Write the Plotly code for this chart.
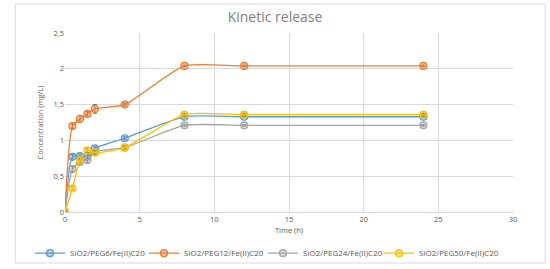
import plotly.graph_objects as go

time_h = [0, 0.5, 1, 1.5, 2, 4, 8, 12, 24]
peg6 = [0, 0.77, 0.78, 0.78, 0.89, 1.03, 1.33, 1.33, 1.33]
peg12 = [0, 1.20, 1.30, 1.37, 1.44, 1.50, 2.04, 2.04, 2.04]
peg24 = [0, 0.60, 0.70, 0.73, 0.84, 0.90, 1.21, 1.21, 1.21]
peg50 = [0, 0.33, 0.72, 0.86, 0.83, 0.90, 1.36, 1.36, 1.36]
err6 = [0.01, 0.03, 0.03, 0.05, 0.02, 0.02, 0.02, 0.01, 0.01]
err12 = [0.01, 0.03, 0.05, 0.03, 0.06, 0.02, 0.01, 0.01, 0.01]
err24 = [0.01, 0.04, 0.04, 0.05, 0.02, 0.02, 0.01, 0.01, 0.01]
err50 = [0.01, 0.02, 0.04, 0.03, 0.03, 0.02, 0.02, 0.02, 0.02]

names = ["SiO2/PEG6/Fe(II)C20", "SiO2/PEG12/Fe(II)C20", "SiO2/PEG24/Fe(II)C20", "SiO2/PEG50/Fe(II)C20"]
series = [peg6, peg12, peg24, peg50]
errors = [err6, err12, err24, err50]
colors = ["#5B9BD5", "#ED7D31", "#A5A5A5", "#FFC000"]
fills = ["rgba(91,155,213,0.45)", "rgba(237,125,49,0.45)", "rgba(165,165,165,0.45)", "rgba(255,192,0,0.45)"]

y_ticks = [0, 0.5, 1, 1.5, 2, 2.5]
y_labels = ["0", "0,5", "1", "1,5", "2", "2,5"]
x_ticks = [0, 5, 10, 15, 20, 25, 30]

legend_ids = ["legend", "legend2", "legend3", "legend4"]
legend_left_px = [30, 144, 263, 379]

fig = go.Figure()
for n, ys, e, c, f, lg in zip(names, series, errors, colors, fills, legend_ids):
    fig.add_trace(go.Scatter(
        x=time_h, y=ys, name=n, mode="lines+markers", legend=lg, showlegend=True,
        line=dict(color=c, width=1.3, shape="spline", smoothing=0.6),
        marker=dict(symbol="circle", size=7, color=f, line=dict(color=c, width=1.2)),
        error_y=dict(type="data", array=e, visible=True, color="#595959", thickness=0.8, width=2),
    ))

font_c = "#595959"
W, H = 550, 269
legend_layout = {}
for lg, px in zip(legend_ids, legend_left_px):
    legend_layout[lg] = dict(orientation="h", xref="container", x=px / W, xanchor="left",
                             yref="container", y=0.059, yanchor="middle",
                             font=dict(size=8, color=font_c), itemwidth=30,
                             bgcolor="rgba(0,0,0,0)")

fig.update_layout(
    width=W, height=H, showlegend=True,
    margin=dict(l=65, r=37, t=33, b=57, autoexpand=False),
    paper_bgcolor="white", plot_bgcolor="white",
    font=dict(family="Open Sans, Liberation Sans, sans-serif", color=font_c, size=8),
    title=dict(text="Kinetic release", x=0.5, xanchor="center", y=0.955, yanchor="top",
               font=dict(size=14, color="#7f7f7f")),
    xaxis=dict(range=[0, 30], tickvals=x_ticks, showgrid=True, gridcolor="#D9D9D9", gridwidth=1,
               zeroline=False, showline=True, linecolor="#D9D9D9", ticks="",
               title=dict(text="Time (h)", font=dict(size=7.5, color=font_c), standoff=4),
               tickfont=dict(size=7.5, color=font_c)),
    yaxis=dict(range=[0, 2.5], tickvals=y_ticks, ticktext=y_labels, showgrid=True, gridcolor="#D9D9D9",
               zeroline=False, showline=False, ticks="",
               title=dict(text="Concentration (mg/L)", font=dict(size=7.5, color=font_c), standoff=8),
               tickfont=dict(size=7.5, color=font_c)),
    shapes=[dict(type="rect", xref="paper", yref="paper", x0=-0.111, x1=1.072, y0=-0.285, y1=1.162,
                 line=dict(color="#D9D9D9", width=1))],
    **legend_layout,
)

fig.write_html("out.html", config={"displayModeBar": False},
               post_script="document.body.style.margin='0px';")
